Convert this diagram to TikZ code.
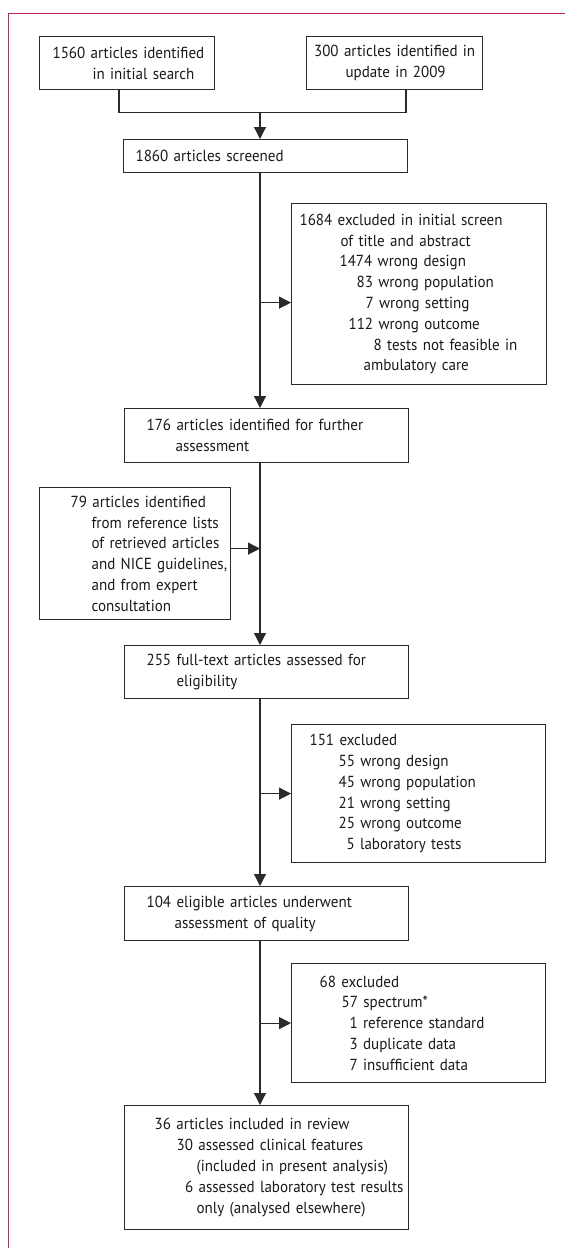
\documentclass[tikz,border=0pt]{standalone}
\usepackage{fontspec}
\newfontfamily\lancetfont[FakeStretch=0.94]{PT Sans}
\usepackage{tikz}
\usetikzlibrary{arrows.meta, positioning}
\definecolor{framered}{HTML}{C4265A}
\definecolor{boxgray}{HTML}{2A2A2A}
\newlength{\pxunit}
\setlength{\pxunit}{0.5pt}
\newcommand{\ind}[2]{\hspace*{#1\pxunit}\mbox{#2}}

\begin{document}
\begin{tikzpicture}[>={Triangle[length=6pt,width=6pt]}, x=0.5pt, y=-0.5pt,
  flowbox/.style={draw=boxgray, line width=0.6pt, inner sep=0pt,
    anchor=north west, align=left, text=black!90,
    font=\lancetfont\fontsize{8}{10.4}\selectfont},
  link/.style={draw=boxgray, line width=0.6pt}]
  \useasboundingbox (0,0) rectangle (565,1248);

  % Page frame
  \draw[framered, line width=0.6pt] (565,13.3) -- (8.3,13.3) -- (8.3,1248);

  % Searches
  \node[flowbox, text width=175\pxunit, minimum height=53\pxunit] (searchA) at (39,36)
    {\ind{13}{1560 articles identified}\\\ind{53}{in initial search}};
  \node[flowbox, text width=176\pxunit, minimum height=53\pxunit] (searchB) at (306,36)
    {\ind{7.5}{300 articles identified in}\\\ind{39}{update in 2009}};

  % Main column
  \node[flowbox, text width=284\pxunit, minimum height=33\pxunit] (screened) at (123,139)
    {\ind{12}{1860 articles screened}};
  \node[flowbox, text width=284\pxunit, minimum height=54\pxunit] (further) at (124,408)
    {\ind{22}{176 articles identified for further}\\\ind{51}{assessment}};
  \node[flowbox, text width=284\pxunit, minimum height=53\pxunit] (fulltext) at (124,645)
    {\ind{22}{255 full-text articles assessed for}\\\ind{52}{eligibility}};
  \node[flowbox, text width=284\pxunit, minimum height=54\pxunit] (eligible) at (124,886)
    {\ind{22}{104 eligible articles underwent}\\\ind{50}{assessment of quality}};
  \node[flowbox, text width=284\pxunit, minimum height=124\pxunit] (included) at (124,1105)
    {\ind{30}{36 articles included in review}\\
     \ind{52}{30 assessed clinical features}\\
     \ind{72}{(included in present analysis)}\\
     \ind{60.5}{6 assessed laboratory test results}\\
     \ind{72}{only (analysed elsewhere)}};

  % Side boxes
  \node[flowbox, text width=255\pxunit, minimum height=181\pxunit] (exclA) at (291,203)
    {\ind{8}{1684 excluded in initial screen}\\
     \ind{49}{of title and abstract}\\
     \ind{48}{1474 wrong design}\\
     \ind{65}{83 wrong population}\\
     \ind{74}{7 wrong setting}\\
     \ind{57}{112 wrong outcome}\\
     \ind{82}{8 tests not feasible in}\\
     \ind{72}{ambulatory care}};
  \node[flowbox, text width=191\pxunit, minimum height=132\pxunit] (extra) at (39,487)
    {\ind{31}{79 articles identified}\\
     \ind{52}{from reference lists}\\
     \ind{52}{of retrieved articles}\\
     \ind{52}{and NICE guidelines,}\\
     \ind{52}{and from expert}\\
     \ind{52}{consultation}};
  \node[flowbox, text width=254\pxunit, minimum height=138\pxunit] (exclB) at (291,724)
    {\ind{18}{151 excluded}\\
     \ind{47}{55 wrong design}\\
     \ind{47}{45 wrong population}\\
     \ind{47}{21 wrong setting}\\
     \ind{47}{25 wrong outcome}\\
     \ind{55}{5 laboratory tests}};
  \node[flowbox, text width=254\pxunit, minimum height=119\pxunit] (exclC) at (291,963)
    {\ind{28}{68 excluded}\\
     \ind{50}{57 spectrum*}\\
     \ind{58}{1 reference standard}\\
     \ind{58}{3 duplicate data}\\
     \ind{58}{7 insufficient data}};

  % Merge of the two searches
  \coordinate (trunk) at (260,0);
  \coordinate (joinA) at (119,112.7);
  \coordinate (joinB) at (406,112.7);
  \draw[link] (searchA.south -| joinA) -- (joinA) -- (joinB) -- (searchB.south -| joinB);
  \draw[link, ->] (joinA -| trunk) -- (screened.north -| trunk);

  % Trunk
  \draw[link, ->] (screened.south -| trunk) -- (further.north -| trunk);
  \draw[link, ->] (further.south -| trunk) -- (fulltext.north -| trunk);
  \draw[link, ->] (fulltext.south -| trunk) -- (eligible.north -| trunk);
  \draw[link, ->] (eligible.south -| trunk) -- (included.north -| trunk);

  % Branches
  \coordinate (armA) at ([yshift=-4.25pt]exclA.west);
  \coordinate (armB) at ([yshift=2.5pt]extra.east);
  \draw[link, ->] (armA -| trunk) -- (armA);
  \draw[link, ->] (armB) -- (armB -| trunk);
  \draw[link, ->] (exclB.west -| trunk) -- (exclB.west);
  \draw[link, ->] (exclC.west -| trunk) -- (exclC.west);
\end{tikzpicture}
\end{document}
